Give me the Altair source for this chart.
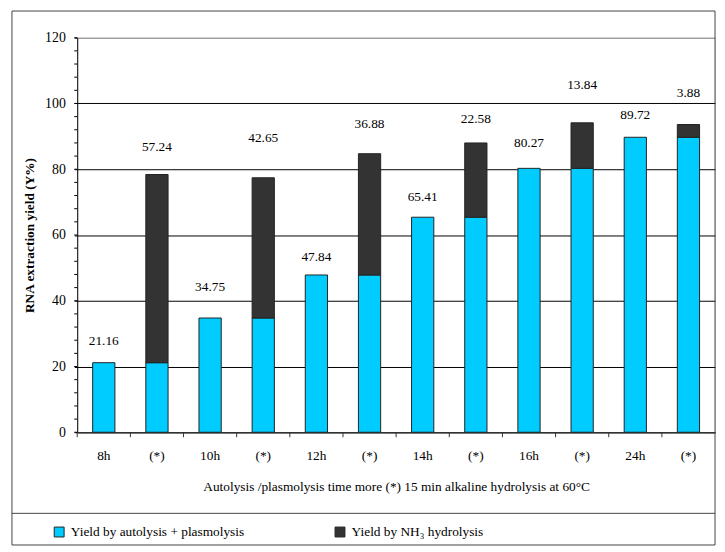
import json
import altair as alt
import pandas as pd

categories = ["8h", "(*)", "10h", "(*)", "12h", "(*)", "14h", "(*)", "16h", "(*)", "24h", "(*)"]
autolysis = [21.16, 21.16, 34.75, 34.75, 47.84, 47.84, 65.41, 65.41, 80.27, 80.27, 89.72, 89.72]
nh3 = [0, 57.24, 0, 42.65, 0, 36.88, 0, 22.58, 0, 13.84, 0, 3.88]
# vertical position (data units) of each value label
label_y = [27.8, 86.9, 44.3, 89.4, 53.3, 93.7, 71.4, 95.4, 87.9, 105.5, 96.4, 103.2]
series_names = ["Yield by  autolysis + plasmolysis", "Yield by NH\u2083 hydrolysis"]
series_colors = ["#00CCFF", "#333333"]
y_ticks = [0, 20, 40, 60, 80, 100, 120]
minor_ticks = list(range(0, 121, 4))

FONT = "Liberation Serif"
FS = 13.5
W, H = 645, 399

rows = []
for i, (a, b) in enumerate(zip(autolysis, nh3)):
    rows.append({"idx": i, "series": series_names[0], "v": a, "ord": 0})
    if b > 0:
        rows.append({"idx": i, "series": series_names[1], "v": b, "ord": 1})
bars_df = pd.DataFrame(rows)

labels_df = pd.DataFrame({
    "idx": list(range(len(categories))),
    "text": [f"{b:.2f}" if b > 0 else f"{a:.2f}" for a, b in zip(autolysis, nh3)],
    "ly": label_y,
})
minor_df = pd.DataFrame({"t": minor_ticks})
one_df = pd.DataFrame({"a": [0]})

label_expr = json.dumps(categories) + "[datum.value]"

x_enc = alt.X(
    "idx:O",
    scale=alt.Scale(paddingInner=0, paddingOuter=0),
    axis=alt.Axis(
        title="Autolysis /plasmolysis time more  (*) 15 min alkaline hydrolysis at 60\u00b0C",
        labelExpr=label_expr,
        labelAngle=0,
        ticks=False,
        tickSize=0,
        labelPadding=17,
        labelFont=FONT,
        labelFontSize=FS,
        labelColor="black",
        titleFont=FONT,
        titleFontSize=FS,
        titleFontWeight="normal",
        titleColor="black",
        titlePadding=17,
        domainColor="#333333",
        domainWidth=1.5,
    ),
)

y_enc = alt.Y(
    "v:Q",
    stack="zero",
    scale=alt.Scale(domain=[0, 120], nice=False),
    axis=alt.Axis(
        title="RNA extraction yield (Y%)",
        values=y_ticks,
        grid=True,
        gridColor={"condition": {"test": "datum.value === 120", "value": "#808080"}, "value": "black"},
        gridWidth=1,
        tickSize=3,
        tickColor="black",
        domainColor="black",
        labelPadding=9,
        labelFont=FONT,
        labelFontSize=14,
        labelColor="black",
        titleFont=FONT,
        titleFontSize=FS,
        titleFontWeight="bold",
        titleColor="black",
        titlePadding=8,
    ),
)

bars = alt.Chart(bars_df).mark_bar(width=22.5, stroke="#222222", strokeWidth=1).encode(
    x=x_enc,
    y=y_enc,
    color=alt.Color(
        "series:N",
        scale=alt.Scale(domain=series_names, range=series_colors),
        legend=alt.Legend(
            orient="none",
            legendX=-25,
            legendY=493,
            direction="horizontal",
            title=None,
            symbolType="square",
            symbolSize=100,
            symbolStrokeColor="#222222",
            symbolStrokeWidth=1,
            labelFont=FONT,
            labelFontSize=FS,
            labelColor="black",
            labelOffset=5,
            labelLimit=400,
            columnPadding=85,
        ),
    ),
    order=alt.Order("ord:Q"),
)

labels = alt.Chart(labels_df).mark_text(font=FONT, fontSize=FS, color="black", baseline="middle").encode(
    x=alt.X("idx:O"),
    y=alt.Y("ly:Q"),
    text="text:N",
)

xticks = alt.Chart(labels_df).mark_rule(color="#333333", strokeWidth=1).encode(
    x=alt.X("idx:O", bandPosition=0),
    y=alt.value(H),
    y2=alt.value(H + 5),
)

yminor = alt.Chart(minor_df).mark_rule(color="black", strokeWidth=1).encode(
    y=alt.Y("t:Q"),
    x=alt.value(-3),
    x2=alt.value(0),
)

frame = alt.Chart(one_df).mark_rect(filled=False, stroke="#444444", strokeWidth=1).encode(
    x=alt.value(-66), x2=alt.value(W), y=alt.value(-27), y2=alt.value(513)
)
divider = alt.Chart(one_df).mark_rule(stroke="#444444", strokeWidth=1).encode(
    x=alt.value(-66), x2=alt.value(W), y=alt.value(481)
)

chart = alt.layer(frame, divider, bars, labels, xticks, yminor).properties(
    width=W,
    height=H,
    autosize=alt.AutoSizeParams(type="none"),
    padding={"left": 70, "top": 27, "right": 2, "bottom": 115},
    background="white",
).configure_view(strokeWidth=0).configure(font=FONT)

chart.save("out.html", embed_options={"renderer": "svg", "actions": False})
